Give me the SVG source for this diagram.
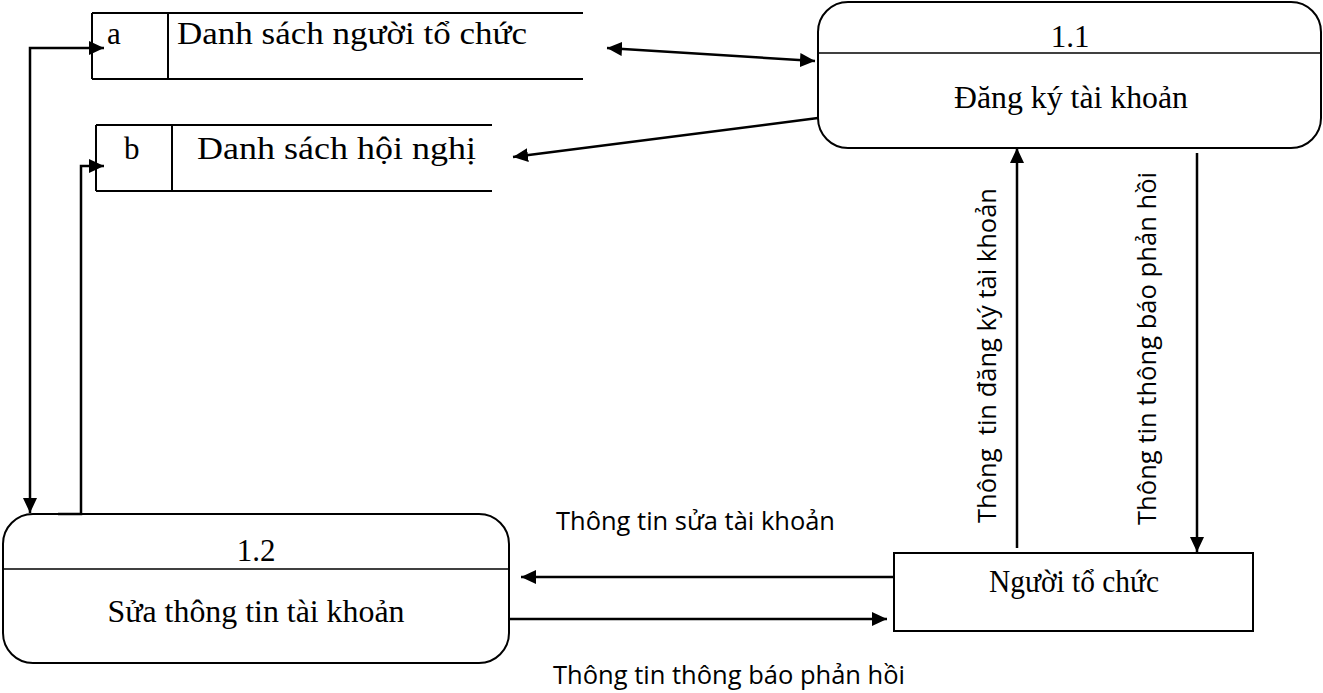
<svg xmlns="http://www.w3.org/2000/svg" width="1323" height="693" viewBox="0 0 1323 693">
  <style>
    .serif { font-family: "Liberation Serif", "Times New Roman", serif; font-size: 31px; fill: #000; }
    .sans { font-family: "Open Sans", "Noto Sans", sans-serif; font-size: 26px; fill: #000; }
    .box { fill: #fff; stroke: #000; stroke-width: 2; }
    .rule { stroke: #000; stroke-width: 1.5; fill: none; }
    .edge { stroke: #000; stroke-width: 2.5; fill: none; }
  </style>
  <defs>
    <marker id="arrow" markerUnits="userSpaceOnUse" markerWidth="16" markerHeight="14" refX="15" refY="7" orient="auto-start-reverse">
      <path d="M0,0 L15,7 L0,14 z" fill="#000"/>
    </marker>
  </defs>

  <rect width="1323" height="693" fill="#fff"/>

  <!-- data store a -->
  <g id="store-a">
    <line class="box" x1="92" y1="13" x2="583" y2="13"/>
    <line class="box" x1="92" y1="79" x2="583" y2="79"/>
    <line class="box" x1="92" y1="13" x2="92" y2="79"/>
    <line class="box" x1="168" y1="13" x2="168" y2="79"/>
    <text class="serif" x="107" y="44">a</text>
    <text class="serif" x="177" y="44" textLength="350" lengthAdjust="spacingAndGlyphs">Danh sách người tổ chức</text>
  </g>

  <!-- data store b -->
  <g id="store-b">
    <line class="box" x1="96" y1="125" x2="492" y2="125"/>
    <line class="box" x1="96" y1="191" x2="492" y2="191"/>
    <line class="box" x1="96" y1="125" x2="96" y2="191"/>
    <line class="box" x1="172" y1="125" x2="172" y2="191"/>
    <text class="serif" x="124" y="159">b</text>
    <text class="serif" x="197" y="159" textLength="279" lengthAdjust="spacingAndGlyphs">Danh sách hội nghị</text>
  </g>

  <!-- process 1.1 -->
  <g id="process-1-1">
    <rect class="box" x="818" y="2" width="503" height="146" rx="30" ry="30"/>
    <line class="rule" x1="818" y1="53" x2="1321" y2="53"/>
    <text class="serif" x="1070" y="47" text-anchor="middle">1.1</text>
    <text class="serif" x="1071" y="108" text-anchor="middle" textLength="234" lengthAdjust="spacingAndGlyphs">Đăng ký tài khoản</text>
  </g>

  <!-- process 1.2 -->
  <g id="process-1-2">
    <rect class="box" x="3" y="514" width="506" height="149" rx="30" ry="30"/>
    <line class="rule" x1="3" y1="569" x2="509" y2="569"/>
    <text class="serif" x="256" y="561" text-anchor="middle">1.2</text>
    <text class="serif" x="256" y="622" text-anchor="middle" textLength="297" lengthAdjust="spacingAndGlyphs">Sửa thông tin tài khoản</text>
  </g>

  <!-- external entity -->
  <g id="nguoi-to-chuc">
    <rect class="box" x="894" y="553" width="359" height="78"/>
    <text class="serif" x="1074" y="592" text-anchor="middle" textLength="170" lengthAdjust="spacingAndGlyphs">Người tổ chức</text>
  </g>

  <!-- flows -->
  <g id="connectors">
    <line class="edge" x1="607" y1="48" x2="815" y2="61" marker-start="url(#arrow)" marker-end="url(#arrow)"/>
    <line class="edge" x1="818" y1="118" x2="513" y2="157" marker-end="url(#arrow)"/>
    <line class="edge" x1="1017" y1="548" x2="1017" y2="148" marker-end="url(#arrow)"/>
    <line class="edge" x1="1197" y1="153" x2="1197" y2="552" marker-end="url(#arrow)"/>
    <line class="edge" x1="894" y1="577" x2="521" y2="577" marker-end="url(#arrow)"/>
    <line class="edge" x1="509" y1="619" x2="887" y2="619" marker-end="url(#arrow)"/>
    <polyline class="edge" points="30,513 30,48 104,48" marker-start="url(#arrow)" marker-end="url(#arrow)"/>
    <polyline class="edge" points="58,514 81,514 81,166 104,166" marker-end="url(#arrow)"/>
  </g>

  <!-- flow labels -->
  <g id="labels">
    <text class="sans" x="556" y="530" textLength="279" lengthAdjust="spacingAndGlyphs">Thông tin sửa tài khoản</text>
    <text class="sans" x="553" y="684" textLength="352" lengthAdjust="spacingAndGlyphs">Thông tin thông báo phản hồi</text>
    <text class="sans" transform="translate(996,523) rotate(-90)" textLength="335" lengthAdjust="spacingAndGlyphs" xml:space="preserve">Thông  tin đăng ký tài khoản</text>
    <text class="sans" transform="translate(1156,525) rotate(-90)" textLength="353" lengthAdjust="spacingAndGlyphs">Thông tin thông báo phản hồi</text>
  </g>
</svg>
